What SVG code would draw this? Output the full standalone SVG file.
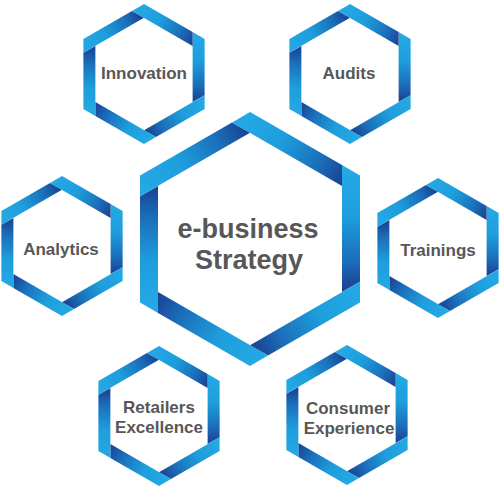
<svg xmlns="http://www.w3.org/2000/svg" xmlns:xlink="http://www.w3.org/1999/xlink" width="500" height="490" viewBox="0 0 500 490">
<style>
.t{font-family:"Liberation Sans",Arial,sans-serif;font-weight:bold;fill:#575757;text-anchor:middle}
.s{font-size:17px}
.c{font-size:27px}
</style>
<defs>
<linearGradient id="g" x1="0" y1="0" x2="0" y2="1">
<stop offset="0" stop-color="#25aae5"/>
<stop offset="0.4" stop-color="#1e9edd"/>
<stop offset="0.75" stop-color="#1b6fba"/>
<stop offset="1" stop-color="#1a3f90"/>
</linearGradient>
<path id="bL" fill="url(#g)" d="M110,-63.5 L110,42.72 L92,53.11 L92,-73.89 Z"/>
<path id="bS" fill="url(#g)" d="M60.62,-35 L60.62,21.14 L48.62,28.07 L48.62,-41.93 Z"/>
<g id="hexS">
<use xlink:href="#bS"/>
<use xlink:href="#bS" transform="rotate(60)"/>
<use xlink:href="#bS" transform="rotate(120)"/>
<use xlink:href="#bS" transform="rotate(180)"/>
<use xlink:href="#bS" transform="rotate(240)"/>
<use xlink:href="#bS" transform="rotate(300)"/>
</g>
<g id="hexL">
<use xlink:href="#bL"/>
<use xlink:href="#bL" transform="rotate(60)"/>
<use xlink:href="#bL" transform="rotate(120)"/>
<use xlink:href="#bL" transform="rotate(180)"/>
<use xlink:href="#bL" transform="rotate(240)"/>
<use xlink:href="#bL" transform="rotate(300)"/>
</g>
</defs>
<rect width="500" height="490" fill="#ffffff"/>
<g id="innovation">
<use xlink:href="#hexS" transform="translate(144,74)"/>
<text class="t s" x="144" y="79">Innovation</text>
</g>
<g id="audits">
<use xlink:href="#hexS" transform="translate(350,74)"/>
<text class="t s" x="349" y="79">Audits</text>
</g>
<g id="analytics">
<use xlink:href="#hexS" transform="translate(62,246)"/>
<text class="t s" x="61" y="255">Analytics</text>
</g>
<g id="trainings">
<use xlink:href="#hexS" transform="translate(438,248)"/>
<text class="t s" x="438" y="256">Trainings</text>
</g>
<g id="retailers-excellence">
<use xlink:href="#hexS" transform="translate(159,416)"/>
<text class="t s" x="159" y="413">Retailers</text>
<text class="t s" x="159" y="433">Excellence</text>
</g>
<g id="consumer-experience">
<use xlink:href="#hexS" transform="translate(347,415)"/>
<text class="t s" x="348" y="414">Consumer</text>
<text class="t s" x="349" y="434">Experience</text>
</g>
<g id="strategy">
<use xlink:href="#hexL" transform="translate(250,239)"/>
<text class="t c" x="248" y="238">e-business</text>
<text class="t c" x="249" y="269">Strategy</text>
</g>
</svg>
